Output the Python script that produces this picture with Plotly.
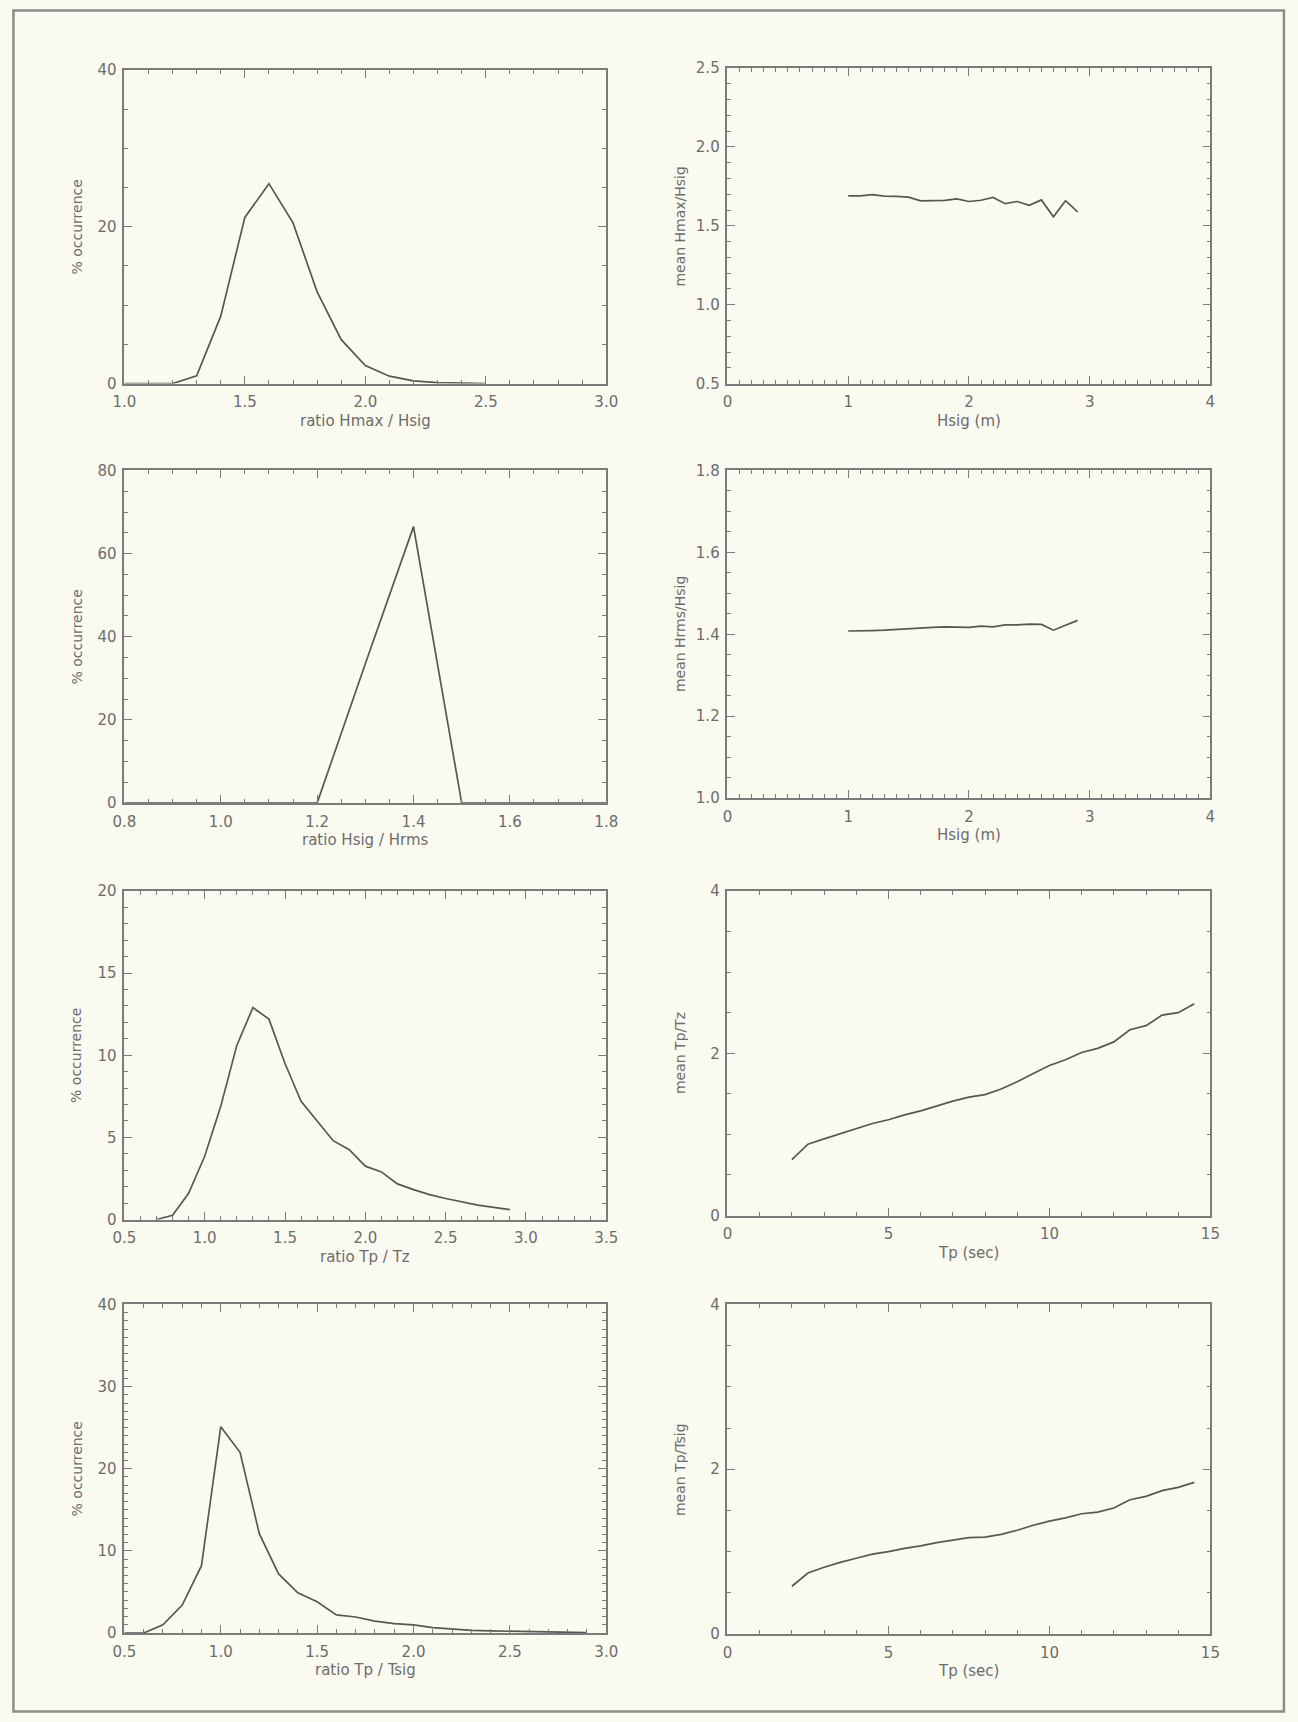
import plotly.graph_objects as go

# ---- Wave statistics: distributions and mean ratios ----

# Hmax / Hsig ratio distribution
hmax_ratio = [1.0, 1.1, 1.2, 1.3, 1.4, 1.5, 1.6, 1.7, 1.8, 1.9, 2.0, 2.1, 2.2, 2.3, 2.4, 2.5]
hmax_pct = [0.0, 0.0, 0.0, 1.0, 8.6, 21.2, 25.5, 20.5, 11.7, 5.6, 2.3, 0.95, 0.35, 0.12, 0.04, 0.01]

# mean Hmax/Hsig against Hsig
hsig_a = [1.0, 1.1, 1.2, 1.3, 1.4, 1.5, 1.6, 1.7, 1.8, 1.9, 2.0, 2.1, 2.2, 2.3, 2.4, 2.5, 2.6, 2.7, 2.8, 2.9]
mean_hmax_hsig = [1.690, 1.690, 1.698, 1.688, 1.686, 1.682, 1.658, 1.661, 1.661, 1.671, 1.654, 1.662,
                  1.680, 1.640, 1.654, 1.630, 1.664, 1.557, 1.659, 1.588]

# Hsig / Hrms ratio distribution
hrms_ratio = [0.8, 0.9, 1.0, 1.1, 1.2, 1.3, 1.4, 1.5, 1.6, 1.7, 1.8]
hrms_pct = [0.0, 0.0, 0.0, 0.0, 0.0, 33.5, 66.5, 0.0, 0.0, 0.0, 0.0]

# mean Hrms/Hsig against Hsig
hsig_b = [1.0, 1.1, 1.2, 1.3, 1.4, 1.5, 1.6, 1.7, 1.8, 1.9, 2.0, 2.1, 2.2, 2.3, 2.4, 2.5, 2.6, 2.7, 2.8, 2.9]
mean_hrms_hsig = [1.408, 1.408, 1.409, 1.410, 1.412, 1.413, 1.415, 1.417, 1.418, 1.417, 1.417, 1.420,
                  1.418, 1.423, 1.423, 1.425, 1.424, 1.410, 1.422, 1.434]

# Tp / Tz ratio distribution
tz_ratio = [0.7, 0.8, 0.9, 1.0, 1.1, 1.2, 1.3, 1.4, 1.5, 1.6, 1.7, 1.8, 1.9, 2.0, 2.1, 2.2, 2.3,
            2.4, 2.5, 2.6, 2.7, 2.8, 2.9]
tz_pct = [0.0, 0.26, 1.6, 3.85, 6.9, 10.6, 12.9, 12.2, 9.5, 7.2, 6.0, 4.8, 4.25, 3.25, 2.9, 2.17,
          1.82, 1.52, 1.28, 1.06, 0.88, 0.74, 0.6]

# mean Tp/Tz against Tp
tp_c = [2.0, 2.5, 3.0, 3.5, 4.0, 4.5, 5.0, 5.5, 6.0, 6.5, 7.0, 7.5, 8.0, 8.5, 9.0, 9.5, 10.0,
        10.5, 11.0, 11.5, 12.0, 12.5, 13.0, 13.5, 14.0, 14.5]
mean_tp_tz = [0.69, 0.88, 0.945, 1.01, 1.07, 1.135, 1.18, 1.24, 1.29, 1.35, 1.41, 1.46, 1.49, 1.56,
              1.65, 1.75, 1.85, 1.92, 2.01, 2.06, 2.14, 2.29, 2.34, 2.47, 2.50, 2.61]

# Tp / Tsig ratio distribution
tsig_ratio = [0.5, 0.6, 0.7, 0.8, 0.9, 1.0, 1.1, 1.2, 1.3, 1.4, 1.5, 1.6, 1.7, 1.8, 1.9, 2.0, 2.1,
              2.2, 2.3, 2.4, 2.5, 2.6, 2.7, 2.8, 2.9]
tsig_pct = [0.0, 0.0, 1.0, 3.4, 8.2, 25.1, 22.0, 12.1, 7.2, 4.9, 3.8, 2.2, 1.95, 1.45, 1.15, 1.0,
            0.65, 0.45, 0.33, 0.26, 0.2, 0.15, 0.1, 0.07, 0.05]

# mean Tp/Tsig against Tp
tp_d = [2.0, 2.5, 3.0, 3.5, 4.0, 4.5, 5.0, 5.5, 6.0, 6.5, 7.0, 7.5, 8.0, 8.5, 9.0, 9.5, 10.0,
        10.5, 11.0, 11.5, 12.0, 12.5, 13.0, 13.5, 14.0, 14.5]
mean_tp_tsig = [0.58, 0.74, 0.81, 0.87, 0.92, 0.97, 1.00, 1.04, 1.07, 1.11, 1.14, 1.17, 1.175, 1.21,
                1.26, 1.32, 1.37, 1.41, 1.46, 1.48, 1.53, 1.63, 1.67, 1.74, 1.78, 1.84]

# ---- Page geometry ----
# The figure sits inside the body's default 8px margin; the whole page (figure plus
# margins) ends up scaled to the 1298x1722 sheet, so sheet positions (px) are mapped
# back to figure coordinates here.
W, H = 1298, 1722
PAD = 8
SX = W / (W + 2 * PAD)
SY = H / (H + 2 * PAD)


def px(xp):
    return (xp / SX - PAD) / W


def py(yp):
    return 1 - (yp / SY - PAD) / H


BG = "#fbfaf0"
AX = "#7b7b7b"
TXT = "#6c6c6c"
LINE = "#575757"
FONT = "DejaVu Sans"

# (x, y, x-range, x dtick, x minor, y-range, y dtick, y minor, x fmt, y fmt, box px, x title, y title)
panels = [
    (hmax_ratio, hmax_pct, [1.0, 3.0], 0.5, 0.1, [0, 40], 20, 5, ".1f", "d",
     (121, 606, 69, 383), "ratio Hmax / Hsig", "% occurrence"),
    (hsig_a, mean_hmax_hsig, [0, 4], 1, 0.1, [0.5, 2.5], 0.5, 0.1, "d", ".1f",
     (728, 1214, 67, 383), "Hsig (m)", "mean Hmax/Hsig"),
    (hrms_ratio, hrms_pct, [0.8, 1.8], 0.2, 0.05, [0, 80], 20, 5, ".1f", "d",
     (121, 606, 470, 803), "ratio Hsig / Hrms", "% occurrence"),
    (hsig_b, mean_hrms_hsig, [0, 4], 1, 0.1, [1.0, 1.8], 0.2, 0.05, "d", ".1f",
     (728, 1214, 470, 798), "Hsig (m)", "mean Hrms/Hsig"),
    (tz_ratio, tz_pct, [0.5, 3.5], 0.5, 0.1, [0, 20], 5, 1, ".1f", "d",
     (121, 606, 891, 1220), "ratio Tp / Tz", "% occurrence"),
    (tp_c, mean_tp_tz, [0, 15], 5, 1, [0, 4], 2, 0.5, "d", "d",
     (728, 1214, 891, 1216), "Tp (sec)", "mean Tp/Tz"),
    (tsig_ratio, tsig_pct, [0.5, 3.0], 0.5, 0.1, [0, 40], 10, 1, ".1f", "d",
     (121, 606, 1305, 1634), "ratio Tp / Tsig", "% occurrence"),
    (tp_d, mean_tp_tsig, [0, 15], 5, 1, [0, 4], 2, 0.5, "d", "d",
     (728, 1214, 1305, 1635), "Tp (sec)", "mean Tp/Tsig"),
]

fig = go.Figure()
layout = dict(
    width=W, height=H, margin=dict(l=0, r=0, t=0, b=0),
    paper_bgcolor=BG, plot_bgcolor=BG, showlegend=False,
    font=dict(family=FONT, color=TXT, size=14),
)
annotations = []

for i, (xs, ys, xr, xd, xm, yr, yd, ym, xf, yf, box, xt, yt) in enumerate(panels, start=1):
    x0, x1, y0, y1 = box
    sfx = "" if i == 1 else str(i)
    fig.add_trace(go.Scatter(x=xs, y=ys, mode="lines", xaxis="x" + sfx, yaxis="y" + sfx,
                             line=dict(color=LINE, width=1.7), hoverinfo="skip"))
    common = dict(showgrid=False, zeroline=False, showline=True, linecolor=AX, linewidth=1.6,
                  mirror="ticks", ticks="inside", ticklen=8, tickwidth=1.2, tickcolor=AX,
                  tickfont=dict(family=FONT, size=15, color=TXT))
    layout["xaxis" + sfx] = dict(
        common, domain=[px(x0), px(x1)], range=xr, anchor="y" + sfx, dtick=xd, tick0=xr[0],
        tickformat=xf, ticklabelstandoff=4,
        minor=dict(dtick=xm, tick0=xr[0], ticks="inside", ticklen=4, tickwidth=1, tickcolor=AX),
    )
    layout["yaxis" + sfx] = dict(
        common, domain=[py(y1), py(y0)], range=yr, anchor="x" + sfx, dtick=yd, tick0=yr[0],
        tickformat=yf, ticklabelstandoff=3,
        minor=dict(dtick=ym, tick0=yr[0], ticks="inside", ticklen=4, tickwidth=1, tickcolor=AX),
    )
    annotations.append(dict(text=xt, xref="paper", yref="paper", x=px((x0 + x1) / 2),
                            y=py(y1 + 37), showarrow=False, xanchor="center", yanchor="middle",
                            font=dict(family=FONT, size=15, color=TXT)))
    annotations.append(dict(text=yt, xref="paper", yref="paper", x=px(x0 - 48),
                            y=py((y0 + y1) / 2), showarrow=False, textangle=-90,
                            xanchor="center", yanchor="middle",
                            font=dict(family=FONT, size=14, color=TXT)))

layout["annotations"] = annotations
# page frame
layout["shapes"] = [dict(type="rect", xref="paper", yref="paper", x0=1.5 / W, x1=px(1288),
                         y0=1.5 / H, y1=1 - 1.5 / H, line=dict(color="#8c8c8c", width=2.5))]
fig.update_layout(layout)
fig.write_html(
    "out.html",
    post_script="document.body.style.background='%s';" % BG,
)
